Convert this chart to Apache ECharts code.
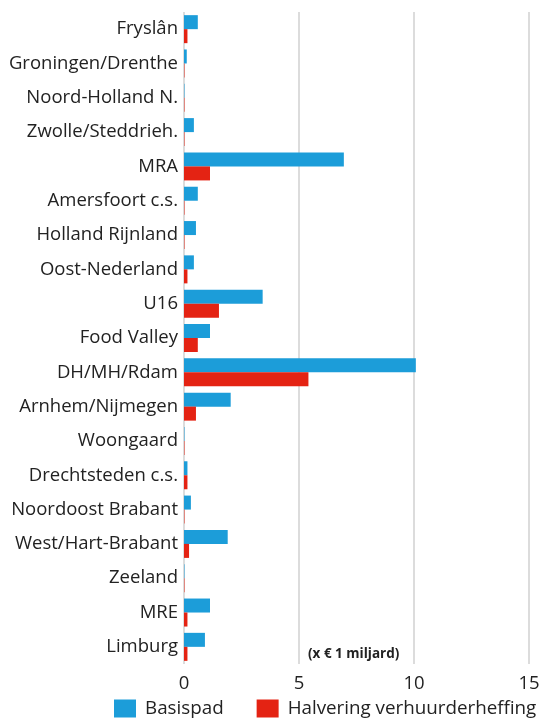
<!DOCTYPE html>
<html lang="nl">
    <head>
        <meta charset="UTF-8">
        <script src="https://cdn.jsdelivr.net/npm/echarts@6/dist/echarts.min.js"></script>
        <title>Regio's</title>
        <style>
            body { margin: 0; background: #fff; }
            #chart { width: 539px; height: 722px; }
        </style>
    </head>
    <body>
        <div id="chart"></div>
    </body>
    <script>
        // regio's van boven naar onder
        var regios = ["Fryslân", "Groningen/Drenthe", "Noord-Holland N.", "Zwolle/Steddrieh.", "MRA",
            "Amersfoort c.s.", "Holland Rijnland", "Oost-Nederland", "U16", "Food Valley",
            "DH/MH/Rdam", "Arnhem/Nijmegen", "Woongaard", "Drechtsteden c.s.", "Noordoost Brabant",
            "West/Hart-Brabant", "Zeeland", "MRE", "Limburg"];
        var basispad = [0.6, 0.12, 0.02, 0.43, 6.95, 0.6, 0.52, 0.43, 3.42, 1.13,
            10.08, 2.03, 0.02, 0.15, 0.3, 1.9, 0.02, 1.13, 0.91];
        var halvering = [0.15, 0.02, 0.02, 0.02, 1.13, 0.02, 0.02, 0.15, 1.52, 0.6,
            5.41, 0.52, 0.02, 0.15, 0.02, 0.22, 0.02, 0.15, 0.15];
        var xTicks = [0, 5, 10, 15];

        var font = "'Open Sans', sans-serif";
        var myCharts = echarts.init(document.getElementById("chart"));
        var option = {
            animation: false,
            textStyle: { fontFamily: font },
            grid: { left: 184, right: 10, top: 12, bottom: 58, outerBoundsMode: "none", containLabel: false },
            legend: {
                top: 699,
                left: 114,
                width: 600,
                padding: 0,
                itemWidth: 22,
                itemHeight: 18,
                itemGap: 33,
                icon: "rect",
                textStyle: { fontSize: 18.8, color: "#222", fontFamily: font, padding: [0, 0, 0, 4] },
                data: ["Basispad", "Halvering verhuurderheffing"]
            },
            xAxis: {
                type: "value",
                min: xTicks[0],
                max: xTicks[xTicks.length - 1],
                interval: 5,
                axisLine: { show: false },
                axisTick: { show: false },
                axisLabel: { fontSize: 18.5, color: "#222", margin: 10, fontFamily: font, hideOverlap: false },
                splitLine: { lineStyle: { color: "#dcdcdc", width: 2 } }
            },
            yAxis: {
                type: "category",
                inverse: true,
                data: regios,
                axisLine: { show: false },
                axisTick: { show: false },
                axisLabel: { fontSize: 18.5, color: "#222", margin: 6, fontFamily: font }
            },
            graphic: [{
                type: "text",
                left: 308,
                top: 647,
                style: { text: "(x € 1 miljard)", font: "bold 13.5px " + font, fill: "#222" }
            }],
            series: [
                {
                    name: "Basispad",
                    type: "bar",
                    data: basispad,
                    barWidth: 14,
                    barGap: "0%",
                    itemStyle: { color: "#1c9dd9" }
                },
                {
                    name: "Halvering verhuurderheffing",
                    type: "bar",
                    data: halvering,
                    barWidth: 14,
                    itemStyle: { color: "#e42313" }
                }
            ]
        };
        myCharts.setOption(option);
    </script>
</html>
